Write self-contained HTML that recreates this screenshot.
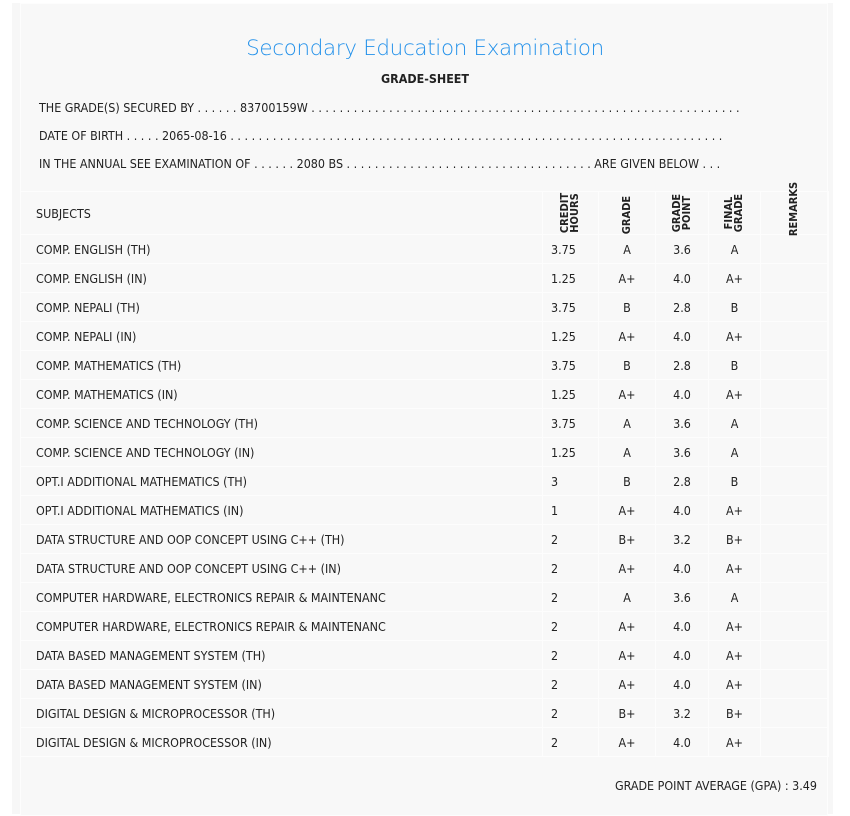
<!DOCTYPE html>
<html><head><style>
body{margin:0;background:#fff;width:850px;height:814px;overflow:hidden;font-family:"DejaVu Sans Condensed","Liberation Sans",sans-serif;color:#222;}
.panel{position:absolute;left:12px;top:3px;width:821px;height:811px;background:#f7f7f7;}
.inner{position:absolute;left:20px;top:3px;width:806px;height:811px;border:1px solid #fdfdfd;background:#f8f8f8;}
.t{position:absolute;white-space:nowrap;font-size:12.4px;}
.title{position:absolute;left:0;width:850px;top:36px;text-align:center;color:#2391ea;font-size:21.4px;font-family:"DejaVu Sans","Liberation Sans",sans-serif;font-weight:200;letter-spacing:-0.3px}
table{position:absolute;left:20px;top:191px;border-collapse:collapse;font-size:12.4px;}
td{border:1px solid #fdfdfd;height:28px;padding:0;}
td.s{padding-left:15px;width:506px;}
td.c{padding-left:8px;width:47px}
td.m{text-align:center}
.h td{height:42px;}
.rot{display:inline-block;transform:rotate(-90deg);font-weight:bold;line-height:10px;font-size:11px;}
</style></head><body>
<div class="panel"></div>
<div class="inner"></div>
<div class="title">Secondary Education Examination</div>
<div class="t" style="left:0;width:850px;text-align:center;top:71px;font-weight:bold;font-size:12.4px">GRADE-SHEET</div>
<div class="t" style="left:39px;top:100px">THE GRADE(S) SECURED BY . . . . . . 83700159W . . . . . . . . . . . . . . . . . . . . . . . . . . . . . . . . . . . . . . . . . . . . . . . . . . . . . . . . . . . . .</div>
<div class="t" style="left:39px;top:128px">DATE OF BIRTH . . . . . 2065-08-16 . . . . . . . . . . . . . . . . . . . . . . . . . . . . . . . . . . . . . . . . . . . . . . . . . . . . . . . . . . . . . . . . . . . . . .</div>
<div class="t" style="left:39px;top:156px">IN THE ANNUAL SEE EXAMINATION OF . . . . . . 2080 BS . . . . . . . . . . . . . . . . . . . . . . . . . . . . . . . . . . . ARE GIVEN BELOW . . .</div>
<table>
<tr class="h"><td class="s">SUBJECTS</td>
<td style="width:55px;text-align:center"><span class="rot">CREDIT<br>HOURS</span></td>
<td style="width:56px;text-align:center"><span class="rot">GRADE</span></td>
<td style="width:52px;text-align:center"><span class="rot">GRADE<br>POINT</span></td>
<td style="width:51px;text-align:center"><span class="rot">FINAL<br>GRADE</span></td>
<td style="width:67px;text-align:center;vertical-align:top"><span class="rot" style="margin-top:12px">REMARKS</span></td></tr>
<tr><td class="s">COMP. ENGLISH (TH)</td><td class="c">3.75</td><td class="m">A</td><td class="m">3.6</td><td class="m">A</td><td></td></tr>
<tr><td class="s">COMP. ENGLISH (IN)</td><td class="c">1.25</td><td class="m">A+</td><td class="m">4.0</td><td class="m">A+</td><td></td></tr>
<tr><td class="s">COMP. NEPALI (TH)</td><td class="c">3.75</td><td class="m">B</td><td class="m">2.8</td><td class="m">B</td><td></td></tr>
<tr><td class="s">COMP. NEPALI (IN)</td><td class="c">1.25</td><td class="m">A+</td><td class="m">4.0</td><td class="m">A+</td><td></td></tr>
<tr><td class="s">COMP. MATHEMATICS (TH)</td><td class="c">3.75</td><td class="m">B</td><td class="m">2.8</td><td class="m">B</td><td></td></tr>
<tr><td class="s">COMP. MATHEMATICS (IN)</td><td class="c">1.25</td><td class="m">A+</td><td class="m">4.0</td><td class="m">A+</td><td></td></tr>
<tr><td class="s">COMP. SCIENCE AND TECHNOLOGY (TH)</td><td class="c">3.75</td><td class="m">A</td><td class="m">3.6</td><td class="m">A</td><td></td></tr>
<tr><td class="s">COMP. SCIENCE AND TECHNOLOGY (IN)</td><td class="c">1.25</td><td class="m">A</td><td class="m">3.6</td><td class="m">A</td><td></td></tr>
<tr><td class="s">OPT.I ADDITIONAL MATHEMATICS (TH)</td><td class="c">3</td><td class="m">B</td><td class="m">2.8</td><td class="m">B</td><td></td></tr>
<tr><td class="s">OPT.I ADDITIONAL MATHEMATICS (IN)</td><td class="c">1</td><td class="m">A+</td><td class="m">4.0</td><td class="m">A+</td><td></td></tr>
<tr><td class="s">DATA STRUCTURE AND OOP CONCEPT USING C++ (TH)</td><td class="c">2</td><td class="m">B+</td><td class="m">3.2</td><td class="m">B+</td><td></td></tr>
<tr><td class="s">DATA STRUCTURE AND OOP CONCEPT USING C++ (IN)</td><td class="c">2</td><td class="m">A+</td><td class="m">4.0</td><td class="m">A+</td><td></td></tr>
<tr><td class="s">COMPUTER HARDWARE, ELECTRONICS REPAIR &amp; MAINTENANC</td><td class="c">2</td><td class="m">A</td><td class="m">3.6</td><td class="m">A</td><td></td></tr>
<tr><td class="s">COMPUTER HARDWARE, ELECTRONICS REPAIR &amp; MAINTENANC</td><td class="c">2</td><td class="m">A+</td><td class="m">4.0</td><td class="m">A+</td><td></td></tr>
<tr><td class="s">DATA BASED MANAGEMENT SYSTEM (TH)</td><td class="c">2</td><td class="m">A+</td><td class="m">4.0</td><td class="m">A+</td><td></td></tr>
<tr><td class="s">DATA BASED MANAGEMENT SYSTEM (IN)</td><td class="c">2</td><td class="m">A+</td><td class="m">4.0</td><td class="m">A+</td><td></td></tr>
<tr><td class="s">DIGITAL DESIGN &amp; MICROPROCESSOR (TH)</td><td class="c">2</td><td class="m">B+</td><td class="m">3.2</td><td class="m">B+</td><td></td></tr>
<tr><td class="s">DIGITAL DESIGN &amp; MICROPROCESSOR (IN)</td><td class="c">2</td><td class="m">A+</td><td class="m">4.0</td><td class="m">A+</td><td></td></tr>
</table>
<div class="t" style="right:33px;top:778px;">GRADE POINT AVERAGE (GPA) : 3.49</div>
</body></html>
